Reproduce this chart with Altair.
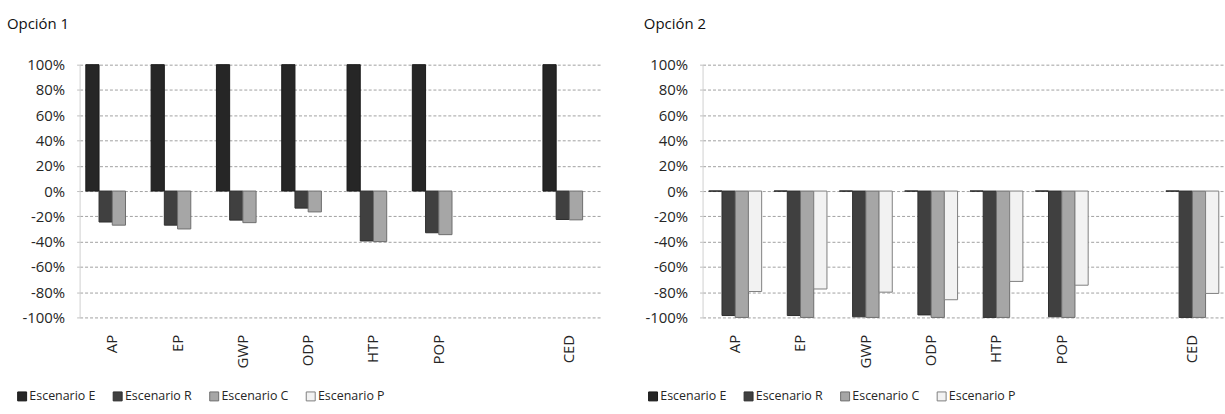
import altair as alt
import pandas as pd

# Impact categories along the x axis; "sep" is an empty slot before CED
categories = ["AP", "EP", "GWP", "ODP", "HTP", "POP", "CED"]
x_slots = ["AP", "EP", "GWP", "ODP", "HTP", "POP", "sep", "CED"]
series = ["Escenario E", "Escenario R", "Escenario C", "Escenario P"]

# Relative change per scenario (fractions of the reference scenario)
opt1_E = [1.0, 1.0, 1.0, 1.0, 1.0, 1.0, 1.0]
opt1_R = [-0.245, -0.27, -0.23, -0.135, -0.395, -0.33, -0.225]
opt1_C = [-0.27, -0.30, -0.25, -0.165, -0.40, -0.345, -0.228]
opt1_P = [None, None, None, None, None, None, None]

opt2_E = [0.0, 0.0, 0.0, 0.0, 0.0, 0.0, 0.0]
opt2_R = [-0.985, -0.985, -0.995, -0.98, -1.0, -0.995, -1.0]
opt2_C = [-1.0, -1.0, -1.0, -1.0, -1.0, -1.0, -1.0]
opt2_P = [-0.795, -0.775, -0.80, -0.86, -0.715, -0.745, -0.81]

fills = ["#262626", "#404040", "#a6a6a6", "#f2f2f2"]
strokes = ["#1a1a1a", "#2e2e2e", "#6e6e6e", "#7f7f7f"]

FONT = "Open Sans"
TEXT = "#262626"


def table(values_by_series):
    rows = []
    for name, vals in zip(series, values_by_series):
        for cat, v in zip(categories, vals):
            if v is not None:
                rows.append({"cat": cat, "serie": name, "val": v})
    return pd.DataFrame(rows)


def panel(df, title, title_dx, legend_x):
    return alt.Chart(df).mark_bar(strokeWidth=1).encode(
        x=alt.X(
            "cat:N",
            scale=alt.Scale(domain=x_slots, paddingInner=0.19, paddingOuter=0.095),
            axis=alt.Axis(
                title=None,
                labelAngle=-90,
                labelExpr="datum.value == 'sep' ? '' : datum.value",
                labelPadding=17,
                ticks=False,
                domain=False,
                grid=False,
                labelFont=FONT,
                labelFontSize=15,
                labelColor=TEXT,
            ),
        ),
        xOffset=alt.XOffset(
            "serie:N", scale=alt.Scale(domain=series, paddingInner=0, paddingOuter=0)
        ),
        y=alt.Y(
            "val:Q",
            scale=alt.Scale(domain=[-1, 1], nice=False),
            axis=alt.Axis(
                title=None,
                values=[-1, -0.8, -0.6, -0.4, -0.2, 0, 0.2, 0.4, 0.6, 0.8, 1],
                labelExpr="round(datum.value * 100) + '%'",
                grid=True,
                gridDash=[3, 2],
                gridColor="#a0a0a0",
                gridWidth=1,
                domain=True,
                domainColor="#d0d0d0",
                tickSize=5,
                tickColor="#bdbdbd",
                tickDash=[3, 2],
                labelPadding=10,
                minExtent=76,
                maxExtent=76,
                labelFont=FONT,
                labelFontSize=15,
                labelColor=TEXT,
            ),
        ),
        color=alt.Color(
            "serie:N",
            scale=alt.Scale(domain=series, range=fills),
            legend=alt.Legend(
                title=None,
                orient="none",
                legendX=legend_x,
                legendY=327,
                direction="horizontal",
                columns=4,
                symbolType="square",
                symbolSize=81,
                symbolStrokeColor="#6e6e6e",
                symbolStrokeWidth=1,
                labelFont=FONT,
                labelFontSize=12.5,
                labelColor=TEXT,
                labelOffset=1,
                columnPadding=15,
            ),
        ),
        stroke=alt.Stroke(
            "serie:N", scale=alt.Scale(domain=series, range=strokes), legend=None
        ),
    ).properties(
        width=525,
        height=254,
        title=alt.TitleParams(
            title,
            anchor="start",
            frame="group",
            dx=title_dx,
            offset=26,
            font=FONT,
            fontSize=15,
            fontWeight="normal",
            color="#111111",
        ),
    )


left = panel(table([opt1_E, opt1_R, opt1_C, opt1_P]), "Opción 1", -73, -64)
right = panel(table([opt2_E, opt2_R, opt2_C, opt2_P]), "Opción 2", -59, -56)

chart = (
    alt.hconcat(left, right, spacing=25)
    .resolve_scale(color="independent", stroke="independent")
    .properties(padding={"left": 4, "top": 16, "right": 0, "bottom": 0}, background="white")
    .configure_view(stroke=None)
)

chart.save("out.html", embed_options={"renderer": "svg", "actions": False})
